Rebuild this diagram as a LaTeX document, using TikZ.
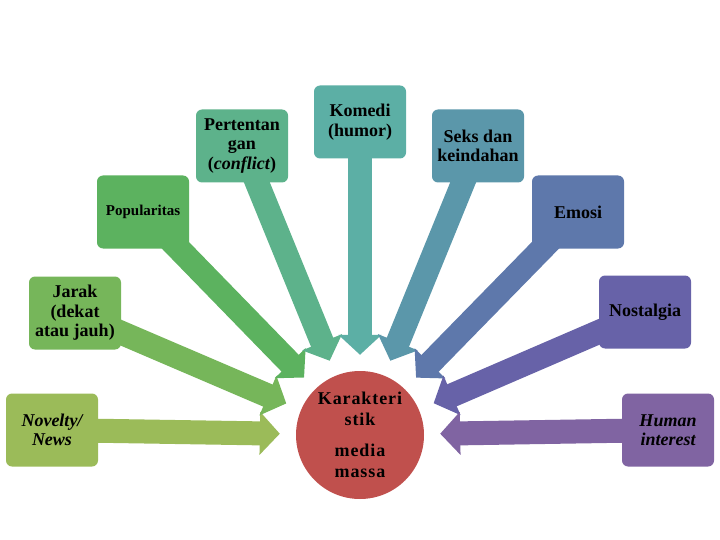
\documentclass[tikz,border=0pt]{standalone}
\usepackage{fontspec}
\setmainfont{Liberation Serif}
\newfontfamily\corefont[LetterSpace=5]{Liberation Serif}
\usepackage{tikz}
\usetikzlibrary{arrows.meta}
\usepackage{xcolor}
\pgfdeclarelayer{background}
\pgfsetlayers{background,main}
\definecolor{cnov}{HTML}{9BBB59}
\definecolor{cjar}{HTML}{76B65A}
\definecolor{cpop}{HTML}{5CB25F}
\definecolor{cper}{HTML}{5DB28B}
\definecolor{ckom}{HTML}{5CAFA5}
\definecolor{csek}{HTML}{5B97AA}
\definecolor{cemo}{HTML}{5E78AB}
\definecolor{cnos}{HTML}{6762A8}
\definecolor{chum}{HTML}{8064A2}
\definecolor{ccore}{HTML}{C0504D}
\tikzset{
  topic/.style={
    rectangle,
    rounded corners=6pt,
    minimum width=92pt,
    minimum height=73pt,
    inner sep=2pt,
    align=center,
    font=\bfseries\fontsize{18}{19.5}\selectfont,
  },
  topicit/.style={
    topic,
    font=\bfseries\itshape\fontsize{18}{19.5}\selectfont,
  },
  core/.style={
    circle,
    minimum size=128pt,
    inner sep=0pt,
    fill=ccore,
    align=center,
    font=\corefont\bfseries\fontsize{18}{21.5}\selectfont,
  },
  feed/.style={line width=24pt, shorten >=16pt, -{Triangle[width=42pt,length=20pt]}},
}

\begin{document}
\begin{tikzpicture}[x=1pt,y=-1pt]
  \useasboundingbox (0,0) rectangle (720,540);
  % centre
  \node[core] (core) at (360,435) {Karakteri\\stik\\[9pt]media\\massa};
  % topics, left to right
  \node[topicit, fill=cnov] (nov) at (52,430) {Novelty/\\News};
  \node[topic, fill=cjar] (jar) at (75,313) {Jarak\\(dekat\\atau jauh)};
  \node[topic, fill=cpop, font=\bfseries\fontsize{15}{18}\selectfont] (pop) at (143,212) {Popularitas};
  \node[topic, fill=cper] (per) at (242,146) {Pertentan\\gan\\(\textit{conflict})};
  \node[topic, fill=ckom] (kom) at (360,122) {Komedi\\(humor)};
  \node[topic, fill=csek] (sek) at (478,146) {Seks dan\\keindahan};
  \node[topic, fill=cemo] (emo) at (578,212) {Emosi};
  \node[topic, fill=cnos] (nos) at (645,312) {Nostalgia};
  \node[topicit, fill=chum] (hum) at (668,430) {Human\\interest};
  % arrows behind the boxes
  \begin{pgfonlayer}{background}
    \foreach \n in {nov,jar,pop,per,kom,sek,emo,nos,hum} {
      \draw[feed, color=c\n] (\n.center) -- (core);
    }
  \end{pgfonlayer}
\end{tikzpicture}
\end{document}
